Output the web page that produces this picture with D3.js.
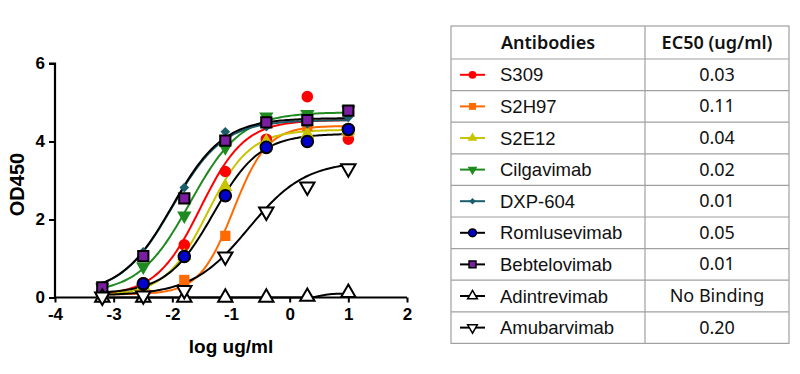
<!DOCTYPE html>
<html>
<head>
<meta charset="utf-8">
<script src="https://cdn.jsdelivr.net/npm/d3@7"></script>
<style>
  body { margin: 0; background: #fff; }
  svg { display: block; }
</style>
</head>
<body>
<svg id="chart" width="800" height="374"></svg>
<script>
// 5-fold dilutions from 10 ug/ml, log scale
const logConc = [-3.194, -2.495, -1.796, -1.097, -0.398, 0.301, 1];

const antibodies = ['S309', 'S2H97', 'S2E12', 'Cilgavimab', 'DXP-604',
  'Romlusevimab', 'Bebtelovimab', 'Adintrevimab', 'Amubarvimab'];
const ec50Labels = ['0.03', '0.11', '0.04', '0.02', '0.01', '0.05', '0.01', 'No Binding', '0.20'];

const od450 = [
  [0.07, 0.38, 1.35, 3.23, 4.06, 5.15, 4.06],   // S309
  [0.02, 0.15, 0.45, 1.58, 3.87, 4.40, 4.25],   // S2H97
  [0.05, 0.30, 1.06, 2.84, 4.00, 4.18, 4.28],   // S2E12
  [0.26, 0.79, 2.10, 3.85, 4.64, 4.70, 4.81],   // Cilgavimab
  [0.30, 1.17, 2.82, 4.25, 4.38, 4.45, 4.62],   // DXP-604
  [0.10, 0.35, 1.05, 2.61, 3.85, 4.00, 4.31],   // Romlusevimab
  [0.26, 1.06, 2.54, 4.02, 4.49, 4.55, 4.79],   // Bebtelovimab
  [0.00, 0.00, 0.00, 0.00, 0.00, 0.02, 0.12],   // Adintrevimab
  [0.02, 0.05, 0.19, 1.05, 2.20, 2.84, 3.31]    // Amubarvimab
];

// 4PL fit parameters
const fitBottom = [0.05, 0.08, 0.05, 0.10, 0.10, 0.10, 0.10, 0.00, 0.05];
const fitTop    = [4.55, 4.40, 4.30, 4.75, 4.55, 4.20, 4.60, 0.10, 3.50];
const fitLogEC  = [-1.52, -0.96, -1.40, -1.70, -2.00, -1.30, -2.00, 0.55, -0.70];
const fitHill   = [1.15, 1.5, 1.2, 1.0, 1.0, 1.1, 1.0, 5.0, 0.9];

const lineColors   = ['#ff0000', '#ff6a00', '#c8c400', '#1f8a1f', '#1b5e6b', '#000', '#000', '#000', '#000'];
const markerFills  = ['#ff0000', '#ff6a00', '#c8c400', '#1f8a1f', '#1b5e6b', '#0000cc', '#7b1fa2', '#fff', '#fff'];
const markerStroke = [null, null, null, null, null, '#000', '#000', '#000', '#000'];
const markerShapes = ['circle', 'square', 'triangle', 'triangleDown', 'diamond', 'circle', 'square', 'triangle', 'triangleDown'];

const xTicks = [-4, -3, -2, -1, 0, 1, 2];
const yTicks = [0, 2, 4, 6];

const svg = d3.select('#chart');
const x = d3.scaleLinear().domain([-4, 2]).range([55, 407]);
const y = d3.scaleLinear().domain([0, 6]).range([297.5, 63.5]);

function symbolPath(shape, size) {
  const types = {
    circle: d3.symbolCircle,
    square: d3.symbolSquare,
    triangle: d3.symbolTriangle,
    triangleDown: d3.symbolTriangle,
    diamond: d3.symbolSquare
  };
  return d3.symbol().type(types[shape]).size(size)();
}
function symbolRotate(shape) {
  if (shape === 'triangleDown') return 180;
  if (shape === 'diamond') return 45;
  return 0;
}
function symbolScale(shape) {
  if (shape === 'diamond') return 0.45;
  if (shape === 'square') return 1.0;
  if (shape.startsWith('triangle')) return 0.85;
  return 1;
}

// axes
const xAxis = svg.append('g')
  .attr('transform', `translate(0, ${y(0)})`)
  .call(d3.axisBottom(x).tickValues(xTicks).tickSize(5).tickPadding(5).tickFormat(d => String(d)));
const yAxis = svg.append('g')
  .attr('transform', `translate(${x(-4)}, 0)`)
  .call(d3.axisLeft(y).tickValues(yTicks).tickSize(6).tickPadding(4).tickFormat(d => String(d)));
[xAxis, yAxis].forEach(g => {
  g.attr('font-size', null).attr('font-family', null);
  g.select('.domain').attr('stroke', '#000').attr('stroke-width', 2.2);
  g.selectAll('.tick line').attr('stroke', '#000').attr('stroke-width', 2);
  g.selectAll('.tick text')
    .attr('fill', '#000')
    .attr('font-family', 'Liberation Sans, Arial, sans-serif')
    .attr('font-weight', 'bold')
    .attr('font-size', 17);
});
yAxis.select('.domain').attr('d', `M-6,${y(6)}H0V${y(0)}`);
xAxis.select('.domain').attr('d', `M0,0H${x(2) - x(-4)}`).attr('transform', `translate(${x(-4)},0)`);

svg.append('text')
  .attr('transform', `translate(24, ${(y(0) + y(6)) / 2 + 4}) rotate(-90)`)
  .attr('text-anchor', 'middle')
  .style('font-family', 'Liberation Sans, Arial, sans-serif')
  .style('font-weight', 'bold')
  .style('font-size', '20px')
  .text('OD450');
svg.append('text')
  .attr('x', 231)
  .attr('y', 353)
  .attr('text-anchor', 'middle')
  .style('font-family', 'Liberation Sans, Arial, sans-serif')
  .style('font-weight', 'bold')
  .style('font-size', '19px')
  .text('log ug/ml');

// fitted curves
const curveX = d3.range(0, 121).map(i => logConc[0] + (logConc[6] - logConc[0]) * i / 120);
const line = d3.line().x(d => x(d[0])).y(d => y(d[1])).curve(d3.curveLinear);
const plot = svg.append('g').attr('class', 'plot');

antibodies.forEach((name, i) => {
  const pts = curveX.map(lx => [lx,
    fitBottom[i] + (fitTop[i] - fitBottom[i]) / (1 + Math.pow(10, (fitLogEC[i] - lx) * fitHill[i]))]);
  plot.append('path')
    .attr('d', line(pts))
    .attr('fill', 'none')
    .attr('stroke', lineColors[i])
    .attr('stroke-width', 2);
});

antibodies.forEach((name, i) => {
  const shape = markerShapes[i];
  plot.append('g')
    .selectAll('path')
    .data(od450[i])
    .enter().append('path')
    .attr('d', symbolPath(shape, 105 * symbolScale(shape)))
    .attr('transform', (d, j) => `translate(${x(logConc[j])}, ${y(d)}) rotate(${symbolRotate(shape)})`)
    .attr('fill', markerFills[i])
    .attr('stroke', markerStroke[i] || 'none')
    .attr('stroke-width', 2);
});

// table legend
const tableX = [451, 645, 789];
const headerH = 33;
const rowH = 31.6;
const tableTop = 26;
const tbl = svg.append('g').attr('class', 'table');
const tableBottom = tableTop + headerH + rowH * antibodies.length;

tbl.append('rect')
  .attr('x', tableX[0]).attr('y', tableTop)
  .attr('width', tableX[2] - tableX[0]).attr('height', tableBottom - tableTop)
  .attr('fill', 'none').attr('stroke', '#a0a0a0').attr('stroke-width', 1.2);
tbl.append('line')
  .attr('x1', tableX[1]).attr('x2', tableX[1])
  .attr('y1', tableTop).attr('y2', tableBottom)
  .attr('stroke', '#a0a0a0').attr('stroke-width', 1.2);
antibodies.forEach((d, i) => {
  const ly = tableTop + headerH + rowH * i;
  tbl.append('line')
    .attr('x1', tableX[0]).attr('x2', tableX[2])
    .attr('y1', ly).attr('y2', ly)
    .attr('stroke', '#a0a0a0').attr('stroke-width', 1.2);
});

const headFont = { 'font-family': 'Noto Sans, sans-serif', 'font-weight': '600', 'font-size': '18px' };
[['Antibodies', (tableX[0] + tableX[1]) / 2], ['EC50 (ug/ml)', (tableX[1] + tableX[2]) / 2]].forEach(h => {
  const t = tbl.append('text')
    .attr('x', h[1]).attr('y', tableTop + headerH / 2 + 6)
    .attr('text-anchor', 'middle')
    .attr('fill', '#111')
    .text(h[0]);
  Object.keys(headFont).forEach(k => t.style(k, headFont[k]));
});

antibodies.forEach((name, i) => {
  const cy = tableTop + headerH + rowH * i + rowH / 2;
  const shape = markerShapes[i];
  const row = tbl.append('g');
  row.append('line')
    .attr('x1', 460).attr('x2', 485)
    .attr('y1', cy).attr('y2', cy)
    .attr('stroke', lineColors[i]).attr('stroke-width', 2);
  row.append('path')
    .attr('d', symbolPath(shape, 48 * symbolScale(shape)))
    .attr('transform', `translate(472.5, ${cy}) rotate(${symbolRotate(shape)})`)
    .attr('fill', markerFills[i])
    .attr('stroke', markerStroke[i] || 'none')
    .attr('stroke-width', 1.5);
  row.append('text')
    .attr('x', 500).attr('y', cy + 6.5)
    .style('font-family', 'Liberation Sans, Arial, sans-serif')
    .style('font-size', '18.5px')
    .attr('fill', '#111')
    .text(name);
  row.append('text')
    .attr('x', (tableX[1] + tableX[2]) / 2).attr('y', cy + 6)
    .attr('text-anchor', 'middle')
    .style('font-family', 'Noto Sans, sans-serif')
    .style('font-size', '18px')
    .attr('fill', '#111')
    .text(ec50Labels[i]);
});
</script>
</body>
</html>
